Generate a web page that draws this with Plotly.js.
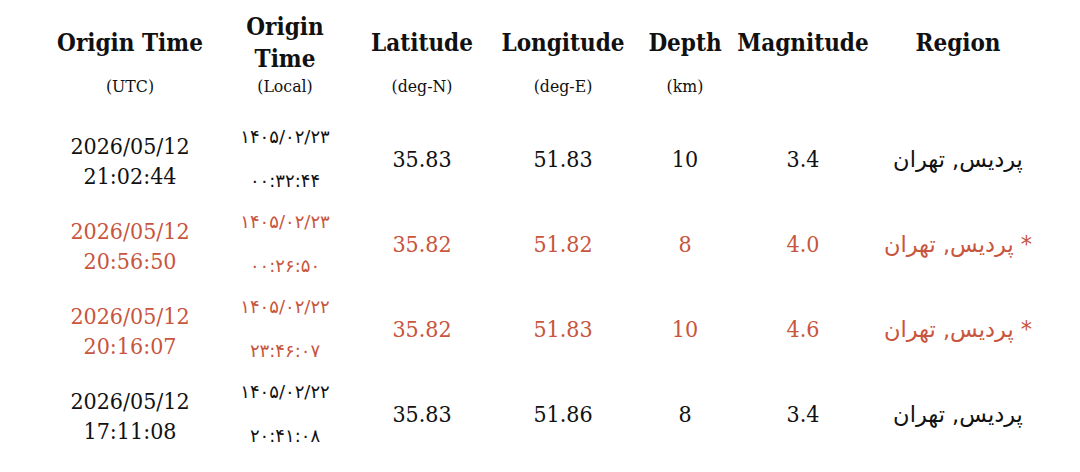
<!DOCTYPE html>
<html>
<head>
<meta charset="utf-8">
<script src="https://cdn.plot.ly/plotly-3.0.1.min.js"></script>
<style>html,body{margin:0;padding:0;background:#fff;}#chart{width:1080px;height:472px;}</style>
</head>
<body>
<div id="chart"></div>
<script>
// ---- data ----
const headers = ["Origin Time", "Origin<br>Time", "Latitude", "Longitude", "Depth", "Magnitude", "Region"];
const units = ["(UTC)", "(Local)", "(deg-N)", "(deg-E)", "(km)", "", ""];
const utcDate = ["2026/05/12", "2026/05/12", "2026/05/12", "2026/05/12"];
const utcTime = ["21:02:44", "20:56:50", "20:16:07", "17:11:08"];
const localDate = ["۱۴۰۵/۰۲/۲۳", "۱۴۰۵/۰۲/۲۳", "۱۴۰۵/۰۲/۲۲", "۱۴۰۵/۰۲/۲۲"];
const localTime = ["۰۰:۳۲:۴۴", "۰۰:۲۶:۵۰", "۲۳:۴۶:۰۷", "۲۰:۴۱:۰۸"];
const latitude = [35.83, 35.82, 35.82, 35.83];
const longitude = [51.83, 51.82, 51.83, 51.86];
const depth = [10, 8, 10, 8];
const magnitude = [3.4, 4.0, 4.6, 3.4];
const region = ["پردیس, تهران", "پردیس, تهران", "پردیس, تهران", "پردیس, تهران"];
const felt = [false, true, true, false];

// ---- layout / style ----
const COLX = [130, 285, 422, 563, 685, 803, 958];
const HEAD_Y = 45, UNIT_Y = 88, ROW0 = 161, STEP = 85;
const SERIF = "DejaVu Serif Condensed, DejaVu Serif, serif";
const ARAB = "DejaVu Sans, Noto Sans, sans-serif";
const BLACK = "#111111", RED = "#c8553d";

const rowY = felt.map((_, i) => ROW0 + STEP * i);
const rowColor = felt.map(f => f ? RED : BLACK);

function textTrace(x, y, text, font) {
  return {type: "scatter", mode: "text", x: x, y: y, text: text,
    textposition: "middle center", textfont: font, hoverinfo: "skip", showlegend: false, cliponaxis: false};
}

const traces = [
  textTrace(COLX, headers.map(() => HEAD_Y), headers, {family: SERIF, size: 24, weight: "bold", color: BLACK}),
  textTrace(COLX.slice(0, 5), units.slice(0, 5).map(() => UNIT_Y), units.slice(0, 5), {family: SERIF, size: 17.5, color: BLACK}),
  textTrace(rowY.map(() => COLX[0]), rowY.map(y => y + 2), utcDate.map((d, i) => d + "<br>" + utcTime[i]), {family: SERIF, size: 23, color: rowColor}),
  textTrace(rowY.map(() => COLX[1]), rowY.map(y => y - 23), localDate, {family: ARAB, size: 18, color: rowColor}),
  textTrace(rowY.map(() => COLX[1]), rowY.map(y => y + 21), localTime, {family: ARAB, size: 18, color: rowColor}),
  textTrace(rowY.map(() => COLX[2]), rowY, latitude.map(v => v.toFixed(2)), {family: SERIF, size: 23, color: rowColor}),
  textTrace(rowY.map(() => COLX[3]), rowY, longitude.map(v => v.toFixed(2)), {family: SERIF, size: 23, color: rowColor}),
  textTrace(rowY.map(() => COLX[4]), rowY, depth.map(v => String(v)), {family: SERIF, size: 23, color: rowColor}),
  textTrace(rowY.map(() => COLX[5]), rowY, magnitude.map(v => v.toFixed(1)), {family: SERIF, size: 23, color: rowColor}),
  textTrace(rowY.map(() => COLX[6]), rowY, region.map((r, i) => felt[i] ? r + " *" : r), {family: ARAB, size: 22.5, color: rowColor})
];

const layout = {
  width: 1080, height: 472,
  margin: {l: 0, r: 0, t: 0, b: 0},
  paper_bgcolor: "#ffffff", plot_bgcolor: "#ffffff",
  xaxis: {range: [0, 1080], visible: false, fixedrange: true},
  yaxis: {range: [472, 0], visible: false, fixedrange: true},
  showlegend: false
};

Plotly.newPlot("chart", traces, layout, {displayModeBar: false, staticPlot: true});
</script>
</body>
</html>
